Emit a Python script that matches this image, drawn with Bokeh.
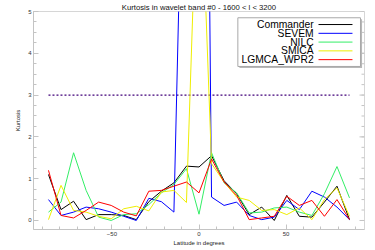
from bokeh.plotting import figure
from bokeh.models import Range1d, FixedTicker
from bokeh.core.properties import value
from bokeh.embed import file_html
from bokeh.resources import INLINE

# ---- data ----
latitude = [-86.4, -79.2, -72.0, -64.8, -57.6, -50.4, -43.2, -36.0, -28.8, -21.6,
            -14.4, -7.2, 0.0, 7.2, 14.4, 21.6, 28.8, 36.0, 43.2, 50.4,
            57.6, 64.8, 72.0, 79.2, 86.4]
commander = [1.1, 0.26, 0.46, 0.02, 0.14, 0.14, 0.12, 0.02, 0.45, 0.7,
             0.9, 1.3, 1.28, 1.55, 0.95, 0.64, 0.14, 0.32, 0.0, 0.6,
             0.1, 0.08, 0.44, 0.82, 0.02]
sevem = [0.5, 0.12, 0.2, 0.32, 0.28, 0.2, 0.1, 0.0, 0.53, 0.45,
         0.2, 13.0, 32.0, 0.56, 0.36, 0.44, 0.12, 0.02, 0.08, 0.48,
         0.26, 0.7, 0.56, 0.32, 0.02]
nilc = [0.2, 0.44, 1.62, 0.72, 0.08, 0.0, 0.14, 0.16, 0.38, 0.66,
        0.86, 1.24, 0.15, 1.62, 0.9, 0.66, 0.18, 0.2, 0.3, 0.32,
        0.2, 0.12, 0.64, 1.29, 0.54]
smica = [0.02, 0.84, 0.24, 0.2, 0.1, 0.04, 0.28, 0.34, 0.23, 0.68,
         0.72, 0.43, 9.5, 1.36, 0.92, 0.56, 0.48, 0.24, 0.26, 0.14,
         0.3, 0.02, 0.5, 0.78, 0.1]
lgmca = [1.2, 0.12, 0.06, 0.24, 0.44, 0.36, 0.2, 0.11, 0.7, 0.72,
         0.82, 0.92, 0.66, 1.47, 0.92, 0.6, 0.02, 0.06, 0.1, 0.58,
         0.36, 0.48, 0.1, 0.5, 0.02]
gaussian_level = 3.0
series_names = ["Commander", "SEVEM", "NILC", "SMICA", "LGMCA_WPR2"]
series_values = [commander, sevem, nilc, smica, lgmca]
x_ticks = [-50, 0, 50]
x_minor = [-90, -80, -70, -60, -40, -30, -20, -10, 10, 20, 30, 40, 60, 70, 80, 90]
y_ticks = [0, 1, 2, 3, 4, 5]
y_minor = [i * 0.25 for i in range(0, 21)]

# ---- style ----
colors = ["#000000", "#0000ff", "#33ee66", "#eeee00", "#ff0000"]
FONT = "Liberation Sans"
AXIS_GRAY = "#c4c4c4"
X0, X1 = -95, 95
Y0, Y1 = -0.216, 5.0

p = figure(width=375, height=250, x_range=Range1d(X0, X1), y_range=Range1d(Y0, Y1),
           output_backend="svg", toolbar_location=None,
           min_border_left=33, min_border_right=11, min_border_top=0, min_border_bottom=21)
p.title.text = "Kurtosis in wavelet band #0 - 1600 < l < 3200"
p.title.align = "center"
p.title.text_font = FONT
p.title.text_font_size = "7.7px"
p.title.text_font_style = "normal"
p.title.standoff = 0
p.title.text_color = "#111111"

p.grid.visible = False
p.outline_line_color = "#d6d6d6"
p.background_fill_color = "white"
p.border_fill_color = "white"

p.xaxis.ticker = FixedTicker(ticks=x_ticks, minor_ticks=x_minor)
p.yaxis.ticker = FixedTicker(ticks=y_ticks, minor_ticks=y_minor)
p.xaxis.axis_label = "Latitude in degrees"
p.yaxis.axis_label = "Kurtosis"

for ax in [p.xaxis[0], p.yaxis[0]]:
    ax.axis_line_color = AXIS_GRAY
    ax.major_tick_line_color = AXIS_GRAY
    ax.minor_tick_line_color = AXIS_GRAY
    ax.major_tick_in = 5
    ax.major_tick_out = 0
    ax.minor_tick_in = 3
    ax.minor_tick_out = 0
    ax.major_label_text_font = FONT
    ax.axis_label_text_font = FONT
    ax.axis_label_text_font_style = "normal"
    ax.major_label_text_font_size = "6px"
    ax.major_label_text_color = "#333333"
    ax.major_label_standoff = 2
    ax.axis_label_text_font_size = "6px"
    ax.axis_label_text_color = "#222222"
p.xaxis.axis_label_standoff = 1
p.yaxis.axis_label_standoff = 4

# right-hand inward ticks (decoration, like the reference box)
px_per_deg = 331 / (X1 - X0)
p.segment(x0=[X1] * len(y_ticks), y0=y_ticks, x1=[X1 - 5 / px_per_deg] * len(y_ticks), y1=y_ticks,
          line_color=AXIS_GRAY, line_width=1)
p.segment(x0=[X1] * len(y_minor), y0=y_minor, x1=[X1 - 3 / px_per_deg] * len(y_minor), y1=y_minor,
          line_color=AXIS_GRAY, line_width=1)

# threshold dashed line
p.line([latitude[0], latitude[-1]], [gaussian_level, gaussian_level],
       line_color="#40007a", line_width=1.2, line_dash="2 2")

for vals, col in zip(series_values, colors):
    p.line(latitude, vals, line_color=col, line_width=1)

# ---- manual legend (text right-aligned, sample line to the right) ----
box_left, box_right, box_top, box_bottom = 22.3, 92.7, 4.85, 3.685
p.quad(left=[box_left + 0.9], right=[box_right + 0.9], top=[box_top - 0.035], bottom=[box_bottom - 0.035],
       fill_color="#b8b8b8", line_color=None)
p.quad(left=[box_left], right=[box_right], top=[box_top], bottom=[box_bottom],
       fill_color="white", line_color="#a8a8a8", line_width=1)
row_top, row_step = 4.688, 0.21
rows_y = [row_top - i * row_step for i in range(len(series_names))]
p.text(x=[65.8] * len(series_names), y=rows_y, text=series_names,
       text_align="right", text_baseline="middle", text_font=value(FONT),
       text_font_size="10.3px", text_color="black")
p.segment(x0=[68.6] * len(series_names), y0=rows_y, x1=[88.1] * len(series_names), y1=rows_y,
          line_color=colors, line_width=1)

open("out.html", "w").write(file_html(p, INLINE))
